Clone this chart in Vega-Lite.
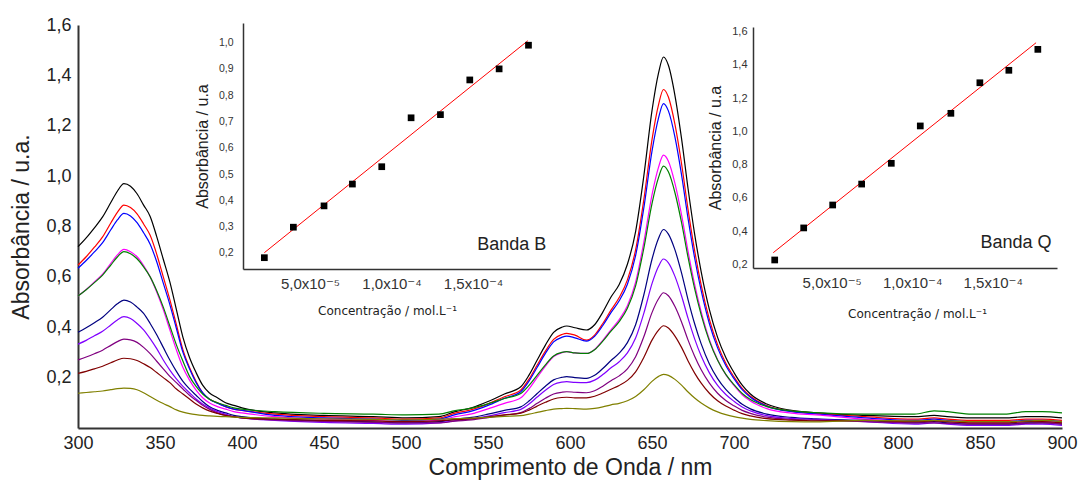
{
"$schema": "https://vega.github.io/schema/vega-lite/v6.json",
"autosize": {"type": "none"},
"width": 984, "height": 403,
"padding": {"left": 78, "top": 25, "right": 16, "bottom": 55},
"background": "white",
"config": {"view": {"stroke": null}, "font": "Liberation Sans",
 "axis": {"grid": false, "ticks": false, "domainColor": "#333333", "labelFont": "Liberation Sans, DejaVu Sans", "titleFont": "Liberation Sans", "titleFontWeight": "normal", "labelColor": "#222222", "titleColor": "#222222", "labelOverlap": false, "labelFlush": false}},
"datasets": {
"spec": [
{"s":"k","w":300,"a":0.72},{"s":"k","w":305,"a":0.755},{"s":"k","w":310,"a":0.795},{"s":"k","w":315,"a":0.838},{"s":"k","w":320,"a":0.895},{"s":"k","w":324,"a":0.94},{"s":"k","w":328,"a":0.97},{"s":"k","w":332,"a":0.96},{"s":"k","w":336,"a":0.93},{"s":"k","w":340,"a":0.885},{"s":"k","w":344,"a":0.84},{"s":"k","w":348,"a":0.76},{"s":"k","w":352,"a":0.67},{"s":"k","w":356,"a":0.58},{"s":"k","w":360,"a":0.47},{"s":"k","w":364,"a":0.36},{"s":"k","w":368,"a":0.28},{"s":"k","w":372,"a":0.22},{"s":"k","w":376,"a":0.17},{"s":"k","w":380,"a":0.14},{"s":"k","w":385,"a":0.12},{"s":"k","w":390,"a":0.10},{"s":"k","w":395,"a":0.09},{"s":"k","w":400,"a":0.08},{"s":"k","w":420,"a":0.06},{"s":"k","w":450,"a":0.05},{"s":"k","w":480,"a":0.045},{"s":"k","w":500,"a":0.04},{"s":"k","w":520,"a":0.045},{"s":"k","w":530,"a":0.065},{"s":"k","w":540,"a":0.08},{"s":"k","w":550,"a":0.105},{"s":"k","w":560,"a":0.135},{"s":"k","w":570,"a":0.164},{"s":"k","w":575,"a":0.21},{"s":"k","w":580,"a":0.27},{"s":"k","w":585,"a":0.329},{"s":"k","w":590,"a":0.38},{"s":"k","w":595,"a":0.40},{"s":"k","w":598,"a":0.405},{"s":"k","w":603,"a":0.398},{"s":"k","w":610,"a":0.389},{"s":"k","w":615,"a":0.41},{"s":"k","w":620,"a":0.46},{"s":"k","w":625,"a":0.52},{"s":"k","w":630,"a":0.57},{"s":"k","w":635,"a":0.65},{"s":"k","w":640,"a":0.78},{"s":"k","w":645,"a":1.0},{"s":"k","w":650,"a":1.26},{"s":"k","w":654,"a":1.41},{"s":"k","w":657,"a":1.473},{"s":"k","w":660,"a":1.44},{"s":"k","w":664,"a":1.32},{"s":"k","w":668,"a":1.15},{"s":"k","w":672,"a":0.95},{"s":"k","w":676,"a":0.77},{"s":"k","w":680,"a":0.62},{"s":"k","w":685,"a":0.47},{"s":"k","w":690,"a":0.36},{"s":"k","w":695,"a":0.28},{"s":"k","w":700,"a":0.22},{"s":"k","w":705,"a":0.17},{"s":"k","w":710,"a":0.135},{"s":"k","w":720,"a":0.095},{"s":"k","w":735,"a":0.07},{"s":"k","w":750,"a":0.06},{"s":"k","w":780,"a":0.05},{"s":"k","w":810,"a":0.045},{"s":"k","w":822,"a":0.05},{"s":"k","w":830,"a":0.045},{"s":"k","w":845,"a":0.04},{"s":"k","w":865,"a":0.04},{"s":"k","w":878,"a":0.045},{"s":"k","w":888,"a":0.045},{"s":"k","w":900,"a":0.04},
{"s":"r","w":300,"a":0.647},{"s":"r","w":305,"a":0.68},{"s":"r","w":310,"a":0.718},{"s":"r","w":315,"a":0.759},{"s":"r","w":320,"a":0.814},{"s":"r","w":324,"a":0.856},{"s":"r","w":328,"a":0.885},{"s":"r","w":332,"a":0.875},{"s":"r","w":336,"a":0.85},{"s":"r","w":340,"a":0.81},{"s":"r","w":344,"a":0.765},{"s":"r","w":348,"a":0.69},{"s":"r","w":352,"a":0.60},{"s":"r","w":356,"a":0.51},{"s":"r","w":360,"a":0.41},{"s":"r","w":364,"a":0.31},{"s":"r","w":368,"a":0.24},{"s":"r","w":372,"a":0.185},{"s":"r","w":376,"a":0.14},{"s":"r","w":380,"a":0.115},{"s":"r","w":385,"a":0.10},{"s":"r","w":390,"a":0.085},{"s":"r","w":395,"a":0.075},{"s":"r","w":400,"a":0.07},{"s":"r","w":420,"a":0.055},{"s":"r","w":450,"a":0.045},{"s":"r","w":480,"a":0.04},{"s":"r","w":500,"a":0.035},{"s":"r","w":520,"a":0.04},{"s":"r","w":530,"a":0.059},{"s":"r","w":540,"a":0.073},{"s":"r","w":550,"a":0.096},{"s":"r","w":560,"a":0.124},{"s":"r","w":570,"a":0.151},{"s":"r","w":575,"a":0.194},{"s":"r","w":580,"a":0.25},{"s":"r","w":585,"a":0.305},{"s":"r","w":590,"a":0.352},{"s":"r","w":595,"a":0.371},{"s":"r","w":598,"a":0.376},{"s":"r","w":603,"a":0.369},{"s":"r","w":610,"a":0.349},{"s":"r","w":615,"a":0.369},{"s":"r","w":620,"a":0.415},{"s":"r","w":625,"a":0.468},{"s":"r","w":630,"a":0.518},{"s":"r","w":635,"a":0.588},{"s":"r","w":640,"a":0.707},{"s":"r","w":645,"a":0.906},{"s":"r","w":650,"a":1.145},{"s":"r","w":654,"a":1.284},{"s":"r","w":657,"a":1.344},{"s":"r","w":660,"a":1.314},{"s":"r","w":664,"a":1.205},{"s":"r","w":668,"a":1.05},{"s":"r","w":672,"a":0.867},{"s":"r","w":676,"a":0.704},{"s":"r","w":680,"a":0.567},{"s":"r","w":685,"a":0.431},{"s":"r","w":690,"a":0.331},{"s":"r","w":695,"a":0.257},{"s":"r","w":700,"a":0.203},{"s":"r","w":705,"a":0.157},{"s":"r","w":710,"a":0.126},{"s":"r","w":720,"a":0.089},{"s":"r","w":735,"a":0.067},{"s":"r","w":750,"a":0.058},{"s":"r","w":780,"a":0.045},{"s":"r","w":810,"a":0.035},{"s":"r","w":822,"a":0.04},{"s":"r","w":830,"a":0.035},{"s":"r","w":845,"a":0.03},{"s":"r","w":865,"a":0.03},{"s":"r","w":878,"a":0.035},{"s":"r","w":888,"a":0.035},{"s":"r","w":900,"a":0.03},
{"s":"b","w":300,"a":0.634},{"s":"b","w":305,"a":0.665},{"s":"b","w":310,"a":0.699},{"s":"b","w":315,"a":0.736},{"s":"b","w":320,"a":0.787},{"s":"b","w":324,"a":0.826},{"s":"b","w":328,"a":0.852},{"s":"b","w":332,"a":0.842},{"s":"b","w":336,"a":0.815},{"s":"b","w":340,"a":0.775},{"s":"b","w":344,"a":0.73},{"s":"b","w":348,"a":0.66},{"s":"b","w":352,"a":0.575},{"s":"b","w":356,"a":0.49},{"s":"b","w":360,"a":0.395},{"s":"b","w":364,"a":0.30},{"s":"b","w":368,"a":0.235},{"s":"b","w":372,"a":0.18},{"s":"b","w":376,"a":0.14},{"s":"b","w":380,"a":0.115},{"s":"b","w":385,"a":0.098},{"s":"b","w":390,"a":0.085},{"s":"b","w":395,"a":0.075},{"s":"b","w":400,"a":0.07},{"s":"b","w":420,"a":0.05},{"s":"b","w":450,"a":0.04},{"s":"b","w":480,"a":0.035},{"s":"b","w":500,"a":0.03},{"s":"b","w":520,"a":0.035},{"s":"b","w":530,"a":0.053},{"s":"b","w":540,"a":0.067},{"s":"b","w":550,"a":0.09},{"s":"b","w":560,"a":0.118},{"s":"b","w":570,"a":0.144},{"s":"b","w":575,"a":0.186},{"s":"b","w":580,"a":0.241},{"s":"b","w":585,"a":0.296},{"s":"b","w":590,"a":0.342},{"s":"b","w":595,"a":0.36},{"s":"b","w":598,"a":0.365},{"s":"b","w":603,"a":0.358},{"s":"b","w":610,"a":0.345},{"s":"b","w":615,"a":0.364},{"s":"b","w":620,"a":0.407},{"s":"b","w":625,"a":0.458},{"s":"b","w":630,"a":0.505},{"s":"b","w":635,"a":0.571},{"s":"b","w":640,"a":0.684},{"s":"b","w":645,"a":0.873},{"s":"b","w":650,"a":1.099},{"s":"b","w":654,"a":1.231},{"s":"b","w":657,"a":1.288},{"s":"b","w":660,"a":1.259},{"s":"b","w":664,"a":1.155},{"s":"b","w":668,"a":1.006},{"s":"b","w":672,"a":0.831},{"s":"b","w":676,"a":0.675},{"s":"b","w":680,"a":0.545},{"s":"b","w":685,"a":0.414},{"s":"b","w":690,"a":0.318},{"s":"b","w":695,"a":0.248},{"s":"b","w":700,"a":0.196},{"s":"b","w":705,"a":0.152},{"s":"b","w":710,"a":0.122},{"s":"b","w":720,"a":0.087},{"s":"b","w":735,"a":0.065},{"s":"b","w":750,"a":0.056},{"s":"b","w":780,"a":0.04},{"s":"b","w":810,"a":0.03},{"s":"b","w":822,"a":0.035},{"s":"b","w":830,"a":0.03},{"s":"b","w":845,"a":0.025},{"s":"b","w":865,"a":0.025},{"s":"b","w":878,"a":0.03},{"s":"b","w":888,"a":0.03},{"s":"b","w":900,"a":0.025},
{"s":"m","w":300,"a":0.524},{"s":"m","w":305,"a":0.55},{"s":"m","w":310,"a":0.58},{"s":"m","w":315,"a":0.611},{"s":"m","w":320,"a":0.654},{"s":"m","w":324,"a":0.687},{"s":"m","w":328,"a":0.709},{"s":"m","w":332,"a":0.70},{"s":"m","w":336,"a":0.68},{"s":"m","w":340,"a":0.645},{"s":"m","w":344,"a":0.60},{"s":"m","w":348,"a":0.54},{"s":"m","w":352,"a":0.47},{"s":"m","w":356,"a":0.39},{"s":"m","w":360,"a":0.31},{"s":"m","w":364,"a":0.24},{"s":"m","w":368,"a":0.19},{"s":"m","w":372,"a":0.15},{"s":"m","w":376,"a":0.12},{"s":"m","w":380,"a":0.10},{"s":"m","w":385,"a":0.085},{"s":"m","w":390,"a":0.075},{"s":"m","w":395,"a":0.065},{"s":"m","w":400,"a":0.06},{"s":"m","w":420,"a":0.045},{"s":"m","w":450,"a":0.035},{"s":"m","w":480,"a":0.03},{"s":"m","w":500,"a":0.025},{"s":"m","w":520,"a":0.03},{"s":"m","w":530,"a":0.045},{"s":"m","w":540,"a":0.056},{"s":"m","w":550,"a":0.076},{"s":"m","w":560,"a":0.098},{"s":"m","w":570,"a":0.12},{"s":"m","w":575,"a":0.155},{"s":"m","w":580,"a":0.201},{"s":"m","w":585,"a":0.246},{"s":"m","w":590,"a":0.284},{"s":"m","w":595,"a":0.299},{"s":"m","w":598,"a":0.303},{"s":"m","w":603,"a":0.298},{"s":"m","w":610,"a":0.296},{"s":"m","w":615,"a":0.312},{"s":"m","w":620,"a":0.348},{"s":"m","w":625,"a":0.39},{"s":"m","w":630,"a":0.43},{"s":"m","w":635,"a":0.485},{"s":"m","w":640,"a":0.579},{"s":"m","w":645,"a":0.737},{"s":"m","w":650,"a":0.926},{"s":"m","w":654,"a":1.036},{"s":"m","w":657,"a":1.083},{"s":"m","w":660,"a":1.059},{"s":"m","w":664,"a":0.971},{"s":"m","w":668,"a":0.847},{"s":"m","w":672,"a":0.701},{"s":"m","w":676,"a":0.57},{"s":"m","w":680,"a":0.461},{"s":"m","w":685,"a":0.351},{"s":"m","w":690,"a":0.271},{"s":"m","w":695,"a":0.212},{"s":"m","w":700,"a":0.169},{"s":"m","w":705,"a":0.132},{"s":"m","w":710,"a":0.107},{"s":"m","w":720,"a":0.077},{"s":"m","w":735,"a":0.059},{"s":"m","w":750,"a":0.052},{"s":"m","w":780,"a":0.035},{"s":"m","w":810,"a":0.025},{"s":"m","w":822,"a":0.03},{"s":"m","w":830,"a":0.025},{"s":"m","w":845,"a":0.02},{"s":"m","w":865,"a":0.02},{"s":"m","w":878,"a":0.025},{"s":"m","w":888,"a":0.025},{"s":"m","w":900,"a":0.02},
{"s":"g","w":300,"a":0.524},{"s":"g","w":305,"a":0.549},{"s":"g","w":310,"a":0.577},{"s":"g","w":315,"a":0.607},{"s":"g","w":320,"a":0.647},{"s":"g","w":324,"a":0.679},{"s":"g","w":328,"a":0.70},{"s":"g","w":332,"a":0.692},{"s":"g","w":336,"a":0.672},{"s":"g","w":340,"a":0.64},{"s":"g","w":344,"a":0.60},{"s":"g","w":348,"a":0.545},{"s":"g","w":352,"a":0.48},{"s":"g","w":356,"a":0.405},{"s":"g","w":360,"a":0.33},{"s":"g","w":364,"a":0.265},{"s":"g","w":368,"a":0.205},{"s":"g","w":372,"a":0.165},{"s":"g","w":376,"a":0.135},{"s":"g","w":380,"a":0.115},{"s":"g","w":385,"a":0.10},{"s":"g","w":390,"a":0.09},{"s":"g","w":395,"a":0.08},{"s":"g","w":400,"a":0.075},{"s":"g","w":420,"a":0.065},{"s":"g","w":450,"a":0.058},{"s":"g","w":480,"a":0.055},{"s":"g","w":500,"a":0.052},{"s":"g","w":520,"a":0.055},{"s":"g","w":530,"a":0.069},{"s":"g","w":540,"a":0.079},{"s":"g","w":550,"a":0.096},{"s":"g","w":560,"a":0.117},{"s":"g","w":570,"a":0.137},{"s":"g","w":575,"a":0.169},{"s":"g","w":580,"a":0.21},{"s":"g","w":585,"a":0.251},{"s":"g","w":590,"a":0.286},{"s":"g","w":595,"a":0.30},{"s":"g","w":598,"a":0.303},{"s":"g","w":603,"a":0.298},{"s":"g","w":610,"a":0.296},{"s":"g","w":615,"a":0.311},{"s":"g","w":620,"a":0.345},{"s":"g","w":625,"a":0.385},{"s":"g","w":630,"a":0.422},{"s":"g","w":635,"a":0.475},{"s":"g","w":640,"a":0.564},{"s":"g","w":645,"a":0.713},{"s":"g","w":650,"a":0.891},{"s":"g","w":654,"a":0.995},{"s":"g","w":657,"a":1.04},{"s":"g","w":660,"a":1.017},{"s":"g","w":664,"a":0.934},{"s":"g","w":668,"a":0.816},{"s":"g","w":672,"a":0.677},{"s":"g","w":676,"a":0.553},{"s":"g","w":680,"a":0.449},{"s":"g","w":685,"a":0.345},{"s":"g","w":690,"a":0.269},{"s":"g","w":695,"a":0.213},{"s":"g","w":700,"a":0.172},{"s":"g","w":705,"a":0.137},{"s":"g","w":710,"a":0.113},{"s":"g","w":720,"a":0.085},{"s":"g","w":735,"a":0.068},{"s":"g","w":750,"a":0.061},{"s":"g","w":780,"a":0.055},{"s":"g","w":810,"a":0.055},{"s":"g","w":822,"a":0.068},{"s":"g","w":830,"a":0.065},{"s":"g","w":845,"a":0.055},{"s":"g","w":865,"a":0.055},{"s":"g","w":878,"a":0.065},{"s":"g","w":888,"a":0.065},{"s":"g","w":900,"a":0.06},
{"s":"n","w":300,"a":0.38},{"s":"n","w":305,"a":0.398},{"s":"n","w":310,"a":0.418},{"s":"n","w":315,"a":0.44},{"s":"n","w":320,"a":0.47},{"s":"n","w":324,"a":0.493},{"s":"n","w":328,"a":0.508},{"s":"n","w":332,"a":0.50},{"s":"n","w":336,"a":0.48},{"s":"n","w":340,"a":0.455},{"s":"n","w":344,"a":0.415},{"s":"n","w":348,"a":0.37},{"s":"n","w":352,"a":0.32},{"s":"n","w":356,"a":0.27},{"s":"n","w":360,"a":0.225},{"s":"n","w":364,"a":0.185},{"s":"n","w":368,"a":0.155},{"s":"n","w":372,"a":0.13},{"s":"n","w":376,"a":0.105},{"s":"n","w":380,"a":0.085},{"s":"n","w":385,"a":0.07},{"s":"n","w":390,"a":0.06},{"s":"n","w":395,"a":0.05},{"s":"n","w":400,"a":0.045},{"s":"n","w":420,"a":0.035},{"s":"n","w":450,"a":0.028},{"s":"n","w":480,"a":0.024},{"s":"n","w":500,"a":0.02},{"s":"n","w":520,"a":0.025},{"s":"n","w":530,"a":0.035},{"s":"n","w":540,"a":0.042},{"s":"n","w":550,"a":0.055},{"s":"n","w":560,"a":0.07},{"s":"n","w":570,"a":0.084},{"s":"n","w":575,"a":0.107},{"s":"n","w":580,"a":0.137},{"s":"n","w":585,"a":0.166},{"s":"n","w":590,"a":0.191},{"s":"n","w":595,"a":0.201},{"s":"n","w":598,"a":0.204},{"s":"n","w":603,"a":0.2},{"s":"n","w":610,"a":0.197},{"s":"n","w":615,"a":0.209},{"s":"n","w":620,"a":0.236},{"s":"n","w":625,"a":0.268},{"s":"n","w":630,"a":0.297},{"s":"n","w":635,"a":0.339},{"s":"n","w":640,"a":0.41},{"s":"n","w":645,"a":0.528},{"s":"n","w":650,"a":0.67},{"s":"n","w":654,"a":0.753},{"s":"n","w":657,"a":0.788},{"s":"n","w":660,"a":0.77},{"s":"n","w":664,"a":0.707},{"s":"n","w":668,"a":0.616},{"s":"n","w":672,"a":0.509},{"s":"n","w":676,"a":0.414},{"s":"n","w":680,"a":0.334},{"s":"n","w":685,"a":0.254},{"s":"n","w":690,"a":0.196},{"s":"n","w":695,"a":0.153},{"s":"n","w":700,"a":0.121},{"s":"n","w":705,"a":0.094},{"s":"n","w":710,"a":0.076},{"s":"n","w":720,"a":0.055},{"s":"n","w":735,"a":0.042},{"s":"n","w":750,"a":0.036},{"s":"n","w":780,"a":0.03},{"s":"n","w":810,"a":0.02},{"s":"n","w":822,"a":0.025},{"s":"n","w":830,"a":0.02},{"s":"n","w":845,"a":0.015},{"s":"n","w":865,"a":0.015},{"s":"n","w":878,"a":0.02},{"s":"n","w":888,"a":0.02},{"s":"n","w":900,"a":0.015},
{"s":"v","w":300,"a":0.333},{"s":"v","w":305,"a":0.348},{"s":"v","w":310,"a":0.366},{"s":"v","w":315,"a":0.384},{"s":"v","w":320,"a":0.409},{"s":"v","w":324,"a":0.429},{"s":"v","w":328,"a":0.442},{"s":"v","w":332,"a":0.435},{"s":"v","w":336,"a":0.415},{"s":"v","w":340,"a":0.39},{"s":"v","w":344,"a":0.355},{"s":"v","w":348,"a":0.315},{"s":"v","w":352,"a":0.27},{"s":"v","w":356,"a":0.23},{"s":"v","w":360,"a":0.195},{"s":"v","w":364,"a":0.165},{"s":"v","w":368,"a":0.14},{"s":"v","w":372,"a":0.115},{"s":"v","w":376,"a":0.095},{"s":"v","w":380,"a":0.08},{"s":"v","w":385,"a":0.065},{"s":"v","w":390,"a":0.055},{"s":"v","w":395,"a":0.045},{"s":"v","w":400,"a":0.04},{"s":"v","w":420,"a":0.03},{"s":"v","w":450,"a":0.022},{"s":"v","w":480,"a":0.018},{"s":"v","w":500,"a":0.015},{"s":"v","w":520,"a":0.02},{"s":"v","w":530,"a":0.029},{"s":"v","w":540,"a":0.036},{"s":"v","w":550,"a":0.047},{"s":"v","w":560,"a":0.061},{"s":"v","w":570,"a":0.074},{"s":"v","w":575,"a":0.095},{"s":"v","w":580,"a":0.123},{"s":"v","w":585,"a":0.15},{"s":"v","w":590,"a":0.173},{"s":"v","w":595,"a":0.182},{"s":"v","w":598,"a":0.184},{"s":"v","w":603,"a":0.181},{"s":"v","w":610,"a":0.18},{"s":"v","w":615,"a":0.19},{"s":"v","w":620,"a":0.212},{"s":"v","w":625,"a":0.239},{"s":"v","w":630,"a":0.263},{"s":"v","w":635,"a":0.298},{"s":"v","w":640,"a":0.357},{"s":"v","w":645,"a":0.455},{"s":"v","w":650,"a":0.573},{"s":"v","w":654,"a":0.642},{"s":"v","w":657,"a":0.671},{"s":"v","w":660,"a":0.656},{"s":"v","w":664,"a":0.602},{"s":"v","w":668,"a":0.525},{"s":"v","w":672,"a":0.435},{"s":"v","w":676,"a":0.354},{"s":"v","w":680,"a":0.286},{"s":"v","w":685,"a":0.219},{"s":"v","w":690,"a":0.169},{"s":"v","w":695,"a":0.133},{"s":"v","w":700,"a":0.106},{"s":"v","w":705,"a":0.083},{"s":"v","w":710,"a":0.068},{"s":"v","w":720,"a":0.049},{"s":"v","w":735,"a":0.038},{"s":"v","w":750,"a":0.034},{"s":"v","w":780,"a":0.025},{"s":"v","w":810,"a":0.015},{"s":"v","w":822,"a":0.02},{"s":"v","w":830,"a":0.015},{"s":"v","w":845,"a":0.01},{"s":"v","w":865,"a":0.01},{"s":"v","w":878,"a":0.015},{"s":"v","w":888,"a":0.015},{"s":"v","w":900,"a":0.01},
{"s":"p","w":300,"a":0.27},{"s":"p","w":305,"a":0.282},{"s":"p","w":310,"a":0.295},{"s":"p","w":315,"a":0.309},{"s":"p","w":320,"a":0.328},{"s":"p","w":324,"a":0.343},{"s":"p","w":328,"a":0.353},{"s":"p","w":332,"a":0.35},{"s":"p","w":336,"a":0.34},{"s":"p","w":340,"a":0.32},{"s":"p","w":344,"a":0.295},{"s":"p","w":348,"a":0.265},{"s":"p","w":352,"a":0.235},{"s":"p","w":356,"a":0.205},{"s":"p","w":360,"a":0.18},{"s":"p","w":364,"a":0.155},{"s":"p","w":368,"a":0.13},{"s":"p","w":372,"a":0.11},{"s":"p","w":376,"a":0.09},{"s":"p","w":380,"a":0.075},{"s":"p","w":385,"a":0.06},{"s":"p","w":390,"a":0.05},{"s":"p","w":395,"a":0.045},{"s":"p","w":400,"a":0.04},{"s":"p","w":420,"a":0.032},{"s":"p","w":450,"a":0.026},{"s":"p","w":480,"a":0.022},{"s":"p","w":500,"a":0.02},{"s":"p","w":520,"a":0.02},{"s":"p","w":530,"a":0.027},{"s":"p","w":540,"a":0.032},{"s":"p","w":550,"a":0.041},{"s":"p","w":560,"a":0.051},{"s":"p","w":570,"a":0.061},{"s":"p","w":575,"a":0.077},{"s":"p","w":580,"a":0.098},{"s":"p","w":585,"a":0.118},{"s":"p","w":590,"a":0.135},{"s":"p","w":595,"a":0.142},{"s":"p","w":598,"a":0.144},{"s":"p","w":603,"a":0.142},{"s":"p","w":610,"a":0.14},{"s":"p","w":615,"a":0.148},{"s":"p","w":620,"a":0.166},{"s":"p","w":625,"a":0.188},{"s":"p","w":630,"a":0.207},{"s":"p","w":635,"a":0.235},{"s":"p","w":640,"a":0.283},{"s":"p","w":645,"a":0.362},{"s":"p","w":650,"a":0.458},{"s":"p","w":654,"a":0.513},{"s":"p","w":657,"a":0.537},{"s":"p","w":660,"a":0.525},{"s":"p","w":664,"a":0.482},{"s":"p","w":668,"a":0.421},{"s":"p","w":672,"a":0.349},{"s":"p","w":676,"a":0.285},{"s":"p","w":680,"a":0.231},{"s":"p","w":685,"a":0.178},{"s":"p","w":690,"a":0.138},{"s":"p","w":695,"a":0.109},{"s":"p","w":700,"a":0.088},{"s":"p","w":705,"a":0.07},{"s":"p","w":710,"a":0.058},{"s":"p","w":720,"a":0.043},{"s":"p","w":735,"a":0.034},{"s":"p","w":750,"a":0.031},{"s":"p","w":780,"a":0.025},{"s":"p","w":810,"a":0.02},{"s":"p","w":822,"a":0.02},{"s":"p","w":830,"a":0.018},{"s":"p","w":845,"a":0.015},{"s":"p","w":865,"a":0.015},{"s":"p","w":878,"a":0.018},{"s":"p","w":888,"a":0.02},{"s":"p","w":900,"a":0.015},
{"s":"d","w":300,"a":0.217},{"s":"d","w":305,"a":0.225},{"s":"d","w":310,"a":0.235},{"s":"d","w":315,"a":0.245},{"s":"d","w":320,"a":0.259},{"s":"d","w":324,"a":0.27},{"s":"d","w":328,"a":0.277},{"s":"d","w":332,"a":0.275},{"s":"d","w":336,"a":0.268},{"s":"d","w":340,"a":0.255},{"s":"d","w":344,"a":0.24},{"s":"d","w":348,"a":0.22},{"s":"d","w":352,"a":0.2},{"s":"d","w":356,"a":0.18},{"s":"d","w":360,"a":0.155},{"s":"d","w":364,"a":0.135},{"s":"d","w":368,"a":0.115},{"s":"d","w":372,"a":0.095},{"s":"d","w":376,"a":0.08},{"s":"d","w":380,"a":0.068},{"s":"d","w":385,"a":0.058},{"s":"d","w":390,"a":0.05},{"s":"d","w":395,"a":0.045},{"s":"d","w":400,"a":0.04},{"s":"d","w":420,"a":0.035},{"s":"d","w":450,"a":0.03},{"s":"d","w":480,"a":0.028},{"s":"d","w":500,"a":0.025},{"s":"d","w":520,"a":0.028},{"s":"d","w":530,"a":0.033},{"s":"d","w":540,"a":0.037},{"s":"d","w":550,"a":0.044},{"s":"d","w":560,"a":0.052},{"s":"d","w":570,"a":0.059},{"s":"d","w":575,"a":0.071},{"s":"d","w":580,"a":0.087},{"s":"d","w":585,"a":0.102},{"s":"d","w":590,"a":0.115},{"s":"d","w":595,"a":0.121},{"s":"d","w":598,"a":0.122},{"s":"d","w":603,"a":0.12},{"s":"d","w":610,"a":0.12},{"s":"d","w":615,"a":0.126},{"s":"d","w":620,"a":0.139},{"s":"d","w":625,"a":0.154},{"s":"d","w":630,"a":0.169},{"s":"d","w":635,"a":0.189},{"s":"d","w":640,"a":0.223},{"s":"d","w":645,"a":0.28},{"s":"d","w":650,"a":0.349},{"s":"d","w":654,"a":0.389},{"s":"d","w":657,"a":0.406},{"s":"d","w":660,"a":0.397},{"s":"d","w":664,"a":0.365},{"s":"d","w":668,"a":0.32},{"s":"d","w":672,"a":0.266},{"s":"d","w":676,"a":0.218},{"s":"d","w":680,"a":0.178},{"s":"d","w":685,"a":0.138},{"s":"d","w":690,"a":0.108},{"s":"d","w":695,"a":0.087},{"s":"d","w":700,"a":0.071},{"s":"d","w":705,"a":0.057},{"s":"d","w":710,"a":0.048},{"s":"d","w":720,"a":0.037},{"s":"d","w":735,"a":0.031},{"s":"d","w":750,"a":0.028},{"s":"d","w":780,"a":0.03},{"s":"d","w":810,"a":0.025},{"s":"d","w":822,"a":0.028},{"s":"d","w":830,"a":0.025},{"s":"d","w":845,"a":0.02},{"s":"d","w":865,"a":0.02},{"s":"d","w":878,"a":0.025},{"s":"d","w":888,"a":0.025},{"s":"d","w":900,"a":0.02},
{"s":"o","w":300,"a":0.138},{"s":"o","w":305,"a":0.141},{"s":"o","w":310,"a":0.144},{"s":"o","w":315,"a":0.147},{"s":"o","w":320,"a":0.152},{"s":"o","w":324,"a":0.156},{"s":"o","w":328,"a":0.158},{"s":"o","w":332,"a":0.157},{"s":"o","w":336,"a":0.152},{"s":"o","w":340,"a":0.14},{"s":"o","w":344,"a":0.125},{"s":"o","w":348,"a":0.11},{"s":"o","w":352,"a":0.097},{"s":"o","w":356,"a":0.085},{"s":"o","w":360,"a":0.072},{"s":"o","w":364,"a":0.063},{"s":"o","w":368,"a":0.057},{"s":"o","w":372,"a":0.053},{"s":"o","w":376,"a":0.05},{"s":"o","w":380,"a":0.048},{"s":"o","w":385,"a":0.046},{"s":"o","w":390,"a":0.045},{"s":"o","w":395,"a":0.043},{"s":"o","w":400,"a":0.042},{"s":"o","w":420,"a":0.04},{"s":"o","w":450,"a":0.036},{"s":"o","w":480,"a":0.034},{"s":"o","w":500,"a":0.032},{"s":"o","w":520,"a":0.035},{"s":"o","w":530,"a":0.037},{"s":"o","w":540,"a":0.039},{"s":"o","w":550,"a":0.042},{"s":"o","w":560,"a":0.046},{"s":"o","w":570,"a":0.049},{"s":"o","w":575,"a":0.055},{"s":"o","w":580,"a":0.062},{"s":"o","w":585,"a":0.069},{"s":"o","w":590,"a":0.075},{"s":"o","w":595,"a":0.077},{"s":"o","w":598,"a":0.078},{"s":"o","w":603,"a":0.077},{"s":"o","w":610,"a":0.075},{"s":"o","w":615,"a":0.078},{"s":"o","w":620,"a":0.084},{"s":"o","w":625,"a":0.092},{"s":"o","w":630,"a":0.098},{"s":"o","w":635,"a":0.108},{"s":"o","w":640,"a":0.125},{"s":"o","w":645,"a":0.152},{"s":"o","w":650,"a":0.185},{"s":"o","w":654,"a":0.205},{"s":"o","w":657,"a":0.213},{"s":"o","w":660,"a":0.209},{"s":"o","w":664,"a":0.193},{"s":"o","w":668,"a":0.17},{"s":"o","w":672,"a":0.143},{"s":"o","w":676,"a":0.119},{"s":"o","w":680,"a":0.099},{"s":"o","w":685,"a":0.079},{"s":"o","w":690,"a":0.064},{"s":"o","w":695,"a":0.053},{"s":"o","w":700,"a":0.045},{"s":"o","w":705,"a":0.039},{"s":"o","w":710,"a":0.034},{"s":"o","w":720,"a":0.029},{"s":"o","w":735,"a":0.025},{"s":"o","w":750,"a":0.024},{"s":"o","w":780,"a":0.03},{"s":"o","w":810,"a":0.028},{"s":"o","w":822,"a":0.03},{"s":"o","w":830,"a":0.028},{"s":"o","w":845,"a":0.025},{"s":"o","w":865,"a":0.025},{"s":"o","w":878,"a":0.028},{"s":"o","w":888,"a":0.03},{"s":"o","w":900,"a":0.025}
],
"ptsB": [{"c":2.2e-5,"a":0.182},{"c":3.98e-5,"a":0.298},{"c":5.86e-5,"a":0.379},{"c":7.6e-5,"a":0.462},{"c":9.4e-5,"a":0.528},{"c":11.2e-5,"a":0.714},{"c":13.0e-5,"a":0.726},{"c":14.8e-5,"a":0.858},{"c":16.6e-5,"a":0.90},{"c":18.4e-5,"a":0.99}],
"fitB": [{"c":2.2e-5,"a":0.201},{"c":18.36e-5,"a":1.007}],
"lblB": [{"c":17.37e-5,"a":0.23,"t":"Banda B"}],
"ptsQ": [{"c":1.46e-5,"a":0.226},{"c":3.26e-5,"a":0.419},{"c":5.06e-5,"a":0.557},{"c":6.86e-5,"a":0.683},{"c":8.7e-5,"a":0.808},{"c":10.5e-5,"a":1.033},{"c":12.4e-5,"a":1.109},{"c":14.2e-5,"a":1.293},{"c":16.0e-5,"a":1.368},{"c":17.8e-5,"a":1.494}],
"fitQ": [{"c":1.37e-5,"a":0.27},{"c":17.69e-5,"a":1.534}],
"lblQ": [{"c":16.45e-5,"a":0.328,"t":"Banda Q"}]
},
"layer": [
{"data": {"name": "spec"},
 "mark": {"type": "line", "strokeWidth": 1.2, "interpolate": "monotone"},
 "encoding": {
  "x": {"field": "w", "type": "quantitative", "scale": {"domain": [300, 900], "nice": false, "zero": false},
   "axis": {"orient": "bottom", "values": [300,350,400,450,500,550,600,650,700,750,800,850,900], "title": "Comprimento de Onda / nm", "labelFontSize": 18, "titleFontSize": 23, "domainWidth": 2, "labelPadding": 6, "titlePadding": 4}},
  "y": {"field": "a", "type": "quantitative", "scale": {"domain": [0, 1.6], "nice": false},
   "axis": {"orient": "left", "values": [0.2,0.4,0.6,0.8,1.0,1.2,1.4,1.6], "labelExpr": "replace(format(datum.value,'.1f'),'.',',')", "title": "Absorbância / u.a.", "labelFontSize": 18, "titleFontSize": 23, "domainWidth": 2, "labelPadding": 7, "titlePadding": 12}},
  "color": {"field": "s", "type": "nominal", "scale": {"domain": ["k","r","b","m","g","n","v","p","d","o"], "range": ["#000000","#ff0000","#0000ff","#ff00ff","#008000","#000080","#8000ff","#800080","#800000","#808000"]}, "legend": null}
 }},
{"encoding": {
  "x": {"field": "c", "type": "quantitative", "scale": {"domain": [0.89e-5, 19.72e-5], "range": [165, 472], "nice": false, "zero": false},
   "axis": {"orient": "bottom", "offset": -159, "values": [5e-5, 1e-4, 1.5e-4], "labelExpr": "datum.value < 7e-5 ? '5,0x10⁻⁵' : (datum.value < 1.2e-4 ? '1,0x10⁻⁴' : '1,5x10⁻⁴')", "labelFontSize": 15, "labelPadding": 7, "title": "Concentração / mol.L⁻¹", "titleFont": "DejaVu Sans", "titleFontSize": 12, "titleX": 309, "titleY": 41, "titleBaseline": "middle", "domainWidth": 1.5, "labelColor": "#333333"}},
  "y": {"field": "a", "type": "quantitative", "scale": {"domain": [0.139, 1.0745], "range": [244, -2], "nice": false, "zero": false},
   "axis": {"orient": "left", "offset": -165, "values": [0.2,0.3,0.4,0.5,0.6,0.7,0.8,0.9,1.0], "labelExpr": "replace(format(datum.value,'.1f'),'.',',')", "labelFontSize": 10.5, "labelPadding": 10, "title": "Absorbância / u.a", "titleFontSize": 16, "titlePadding": 8, "domainWidth": 1.5, "labelColor": "#333333"}}
 },
 "layer": [
  {"data": {"name": "fitB"}, "mark": {"type": "line", "color": "#ff0000", "strokeWidth": 1}},
  {"data": {"name": "ptsB"}, "mark": {"type": "point", "shape": "square", "filled": true, "color": "#000000", "size": 45, "opacity": 1}},
  {"data": {"name": "lblB"}, "mark": {"type": "text", "fontSize": 18, "font": "Liberation Sans", "color": "#222222", "align": "center", "baseline": "middle"}, "encoding": {"text": {"field": "t"}}}
 ]},
{"encoding": {
  "x": {"field": "c", "type": "quantitative", "scale": {"domain": [0.112e-5, 18.99e-5], "range": [675, 979], "nice": false, "zero": false},
   "axis": {"orient": "bottom", "offset": -160, "values": [5e-5, 1e-4, 1.5e-4], "labelExpr": "datum.value < 7e-5 ? '5,0x10⁻⁵' : (datum.value < 1.2e-4 ? '1,0x10⁻⁴' : '1,5x10⁻⁴')", "labelFontSize": 15, "labelPadding": 7, "title": "Concentração / mol.L⁻¹", "titleFont": "DejaVu Sans", "titleFontSize": 12, "titleX": 839, "titleY": 45, "titleBaseline": "middle", "domainWidth": 1.5, "labelColor": "#333333"}},
  "y": {"field": "a", "type": "quantitative", "scale": {"domain": [0.1777, 1.6287], "range": [243, 2], "nice": false, "zero": false},
   "axis": {"orient": "left", "offset": -675, "values": [0.2,0.4,0.6,0.8,1.0,1.2,1.4,1.6], "labelExpr": "replace(format(datum.value,'.1f'),'.',',')", "labelFontSize": 11, "labelPadding": 6, "title": "Absorbância / u.a", "titleFontSize": 16, "titlePadding": 8, "domainWidth": 1.5, "labelColor": "#333333"}}
 },
 "layer": [
  {"data": {"name": "fitQ"}, "mark": {"type": "line", "color": "#ff0000", "strokeWidth": 1}},
  {"data": {"name": "ptsQ"}, "mark": {"type": "point", "shape": "square", "filled": true, "color": "#000000", "size": 45, "opacity": 1}},
  {"data": {"name": "lblQ"}, "mark": {"type": "text", "fontSize": 18, "font": "Liberation Sans", "color": "#222222", "align": "center", "baseline": "middle"}, "encoding": {"text": {"field": "t"}}}
 ]}
],
"resolve": {"scale": {"x": "independent", "y": "independent"}}
}
